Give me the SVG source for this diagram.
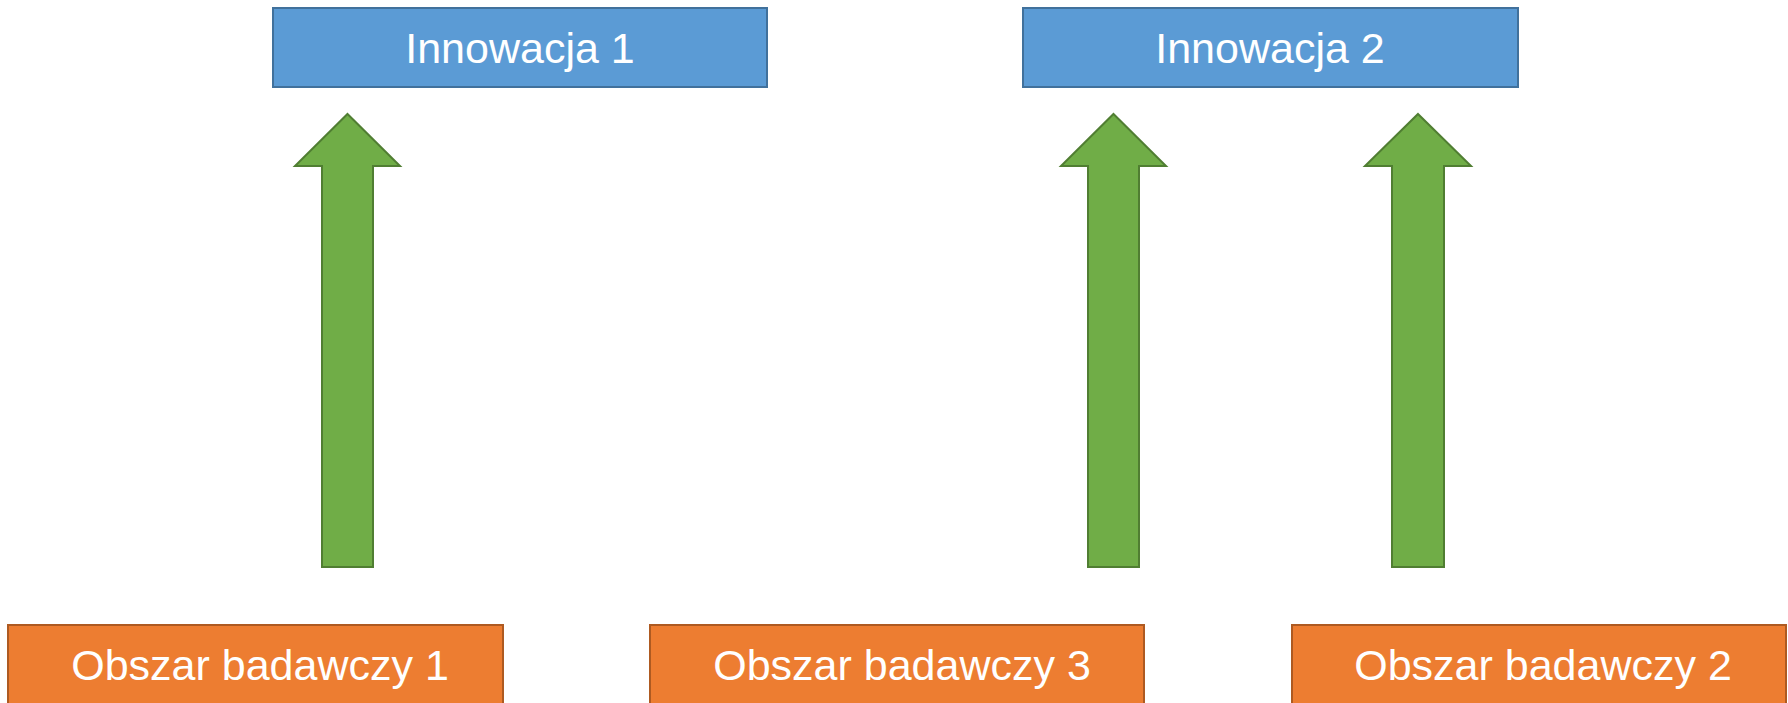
<svg xmlns="http://www.w3.org/2000/svg" width="1788" height="703" viewBox="0 0 1788 703">
<style>
.inn{fill:#5B9BD5;stroke:#41719C;stroke-width:2}
.obs{fill:#ED7D31;stroke:#AE5A21;stroke-width:2}
.arr{fill:#70AD47;stroke:#507E32;stroke-width:2;stroke-linejoin:miter}
.t{font-family:"Liberation Sans",Arial,sans-serif;font-size:43px;fill:#FFFFFF;text-anchor:middle}
</style>
<rect width="1788" height="703" fill="#FFFFFF"/>
<g id="innowacja1"><rect class="inn" x="273" y="8" width="494" height="79"/><text class="t" x="520" y="63">Innowacja 1</text></g>
<g id="innowacja2"><rect class="inn" x="1023" y="8" width="495" height="79"/><text class="t" x="1270" y="63">Innowacja 2</text></g>
<g id="obszar1"><rect class="obs" x="8" y="625" width="495" height="82"/><text class="t" x="260" y="680">Obszar badawczy 1</text></g>
<g id="obszar3"><rect class="obs" x="650" y="625" width="494" height="82"/><text class="t" x="902" y="680">Obszar badawczy 3</text></g>
<g id="obszar2"><rect class="obs" x="1292" y="625" width="494" height="82"/><text class="t" x="1543" y="680">Obszar badawczy 2</text></g>
<g id="connectors">
<polygon class="arr" points="347.5,114 400,166 373,166 373,567 322,567 322,166 295,166"/>
<polygon class="arr" points="1113.5,114 1166,166 1139,166 1139,567 1088,567 1088,166 1061,166"/>
<polygon class="arr" points="1418,114 1471,166 1444,166 1444,567 1392,567 1392,166 1365,166"/>
</g>
</svg>
